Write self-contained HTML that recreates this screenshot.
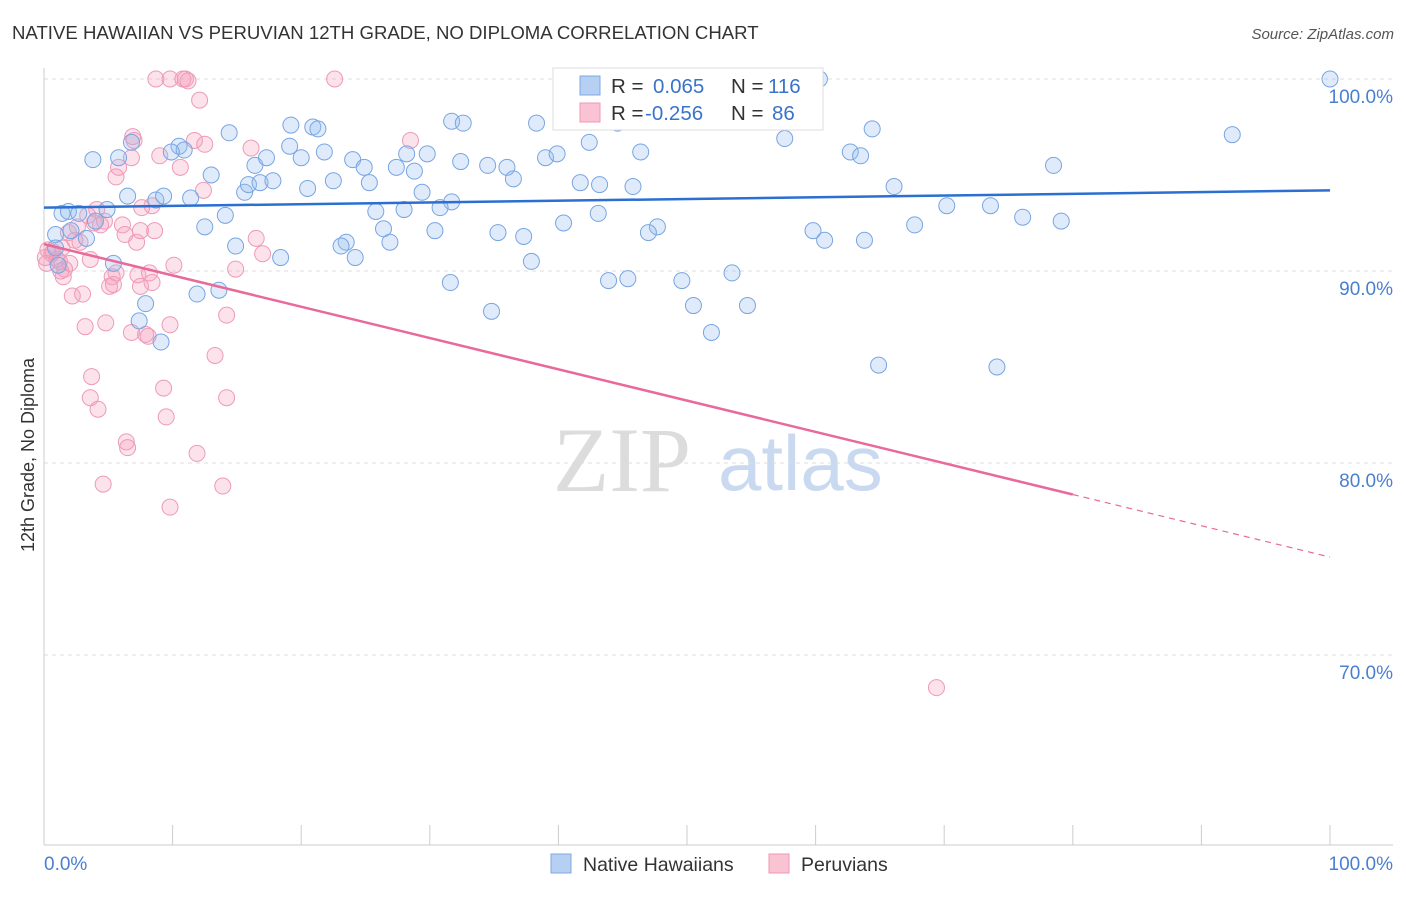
<!DOCTYPE html>
<html><head><meta charset="utf-8">
<style>
body{margin:0;background:#fff;font-family:"Liberation Sans",sans-serif;}
svg text{font-family:"Liberation Sans",sans-serif;}
</style></head>
<body>
<svg id="chart" width="1406" height="892" xmlns="http://www.w3.org/2000/svg">
<text x="12" y="39" font-size="18.6" fill="#333">NATIVE HAWAIIAN VS PERUVIAN 12TH GRADE, NO DIPLOMA CORRELATION CHART</text>
<text x="1394" y="39" font-size="15" fill="#555" text-anchor="end" font-style="italic">Source: ZipAtlas.com</text>
<text x="34" y="455" font-size="18" fill="#333" text-anchor="middle" transform="rotate(-90 34 455)">12th Grade, No Diploma</text>
<g>
<text x="553" y="491" font-size="92" fill="#dcdcdc" font-family="Liberation Serif" style="font-family:'Liberation Serif',serif">ZIP</text>
<text x="718" y="490" font-size="78" fill="#c9daf0">atlas</text>
</g>
<g id="grid"></g>
<g id="axes"></g>
<g id="pinkpts"></g>
<g id="bluepts"></g>
<g id="lines"></g>
<g>
<rect x="553" y="68" width="270" height="62" fill="#fff" stroke="#ddd"/>
<rect x="580" y="76" width="20" height="19" fill="#b5d0f3" stroke="#7fa9e3"/>
<rect x="580" y="103" width="20" height="19" fill="#f9c3d4" stroke="#ef97b5"/>
<text x="611" y="93" font-size="20.5" fill="#333">R =</text>
<text x="653" y="93" font-size="20.5" fill="#3a73c9">0.065</text>
<text x="731" y="93" font-size="20.5" fill="#333">N =</text>
<text x="768" y="93" font-size="20.5" fill="#3a73c9">116</text>
<text x="611" y="120" font-size="20.5" fill="#333">R =</text>
<text x="645" y="120" font-size="20.5" fill="#3a73c9">-0.256</text>
<text x="731" y="120" font-size="20.5" fill="#333">N =</text>
<text x="772" y="120" font-size="20.5" fill="#3a73c9">86</text>
</g>
<g>
<rect x="551" y="854" width="20" height="19" fill="#b5d0f3" stroke="#7fa9e3"/>
<text x="583" y="871" font-size="19.5" fill="#333">Native Hawaiians</text>
<rect x="769" y="854" width="20" height="19" fill="#f9c3d4" stroke="#ef97b5"/>
<text x="801" y="871" font-size="19.5" fill="#333">Peruvians</text>
</g>
</svg>
<script>
const blueX=[41.5,59.3,60.3,100,44.6,92.4,31.7,32.6,38.3,20.9,21.3,19.2,14.4,10.5,10.9,9.9,3.8,5.8,6.8,19.1,20.0,21.8,16.4,17.3,24.0,24.9,27.4,28.2,29.8,28.8,32.4,34.5,36.0,36.5,39.0,39.9,42.4,46.4,57.6,62.7,63.5,64.4,78.5,13.0,15.6,15.9,16.8,17.8,20.5,22.5,25.3,29.4,31.7,41.7,43.2,45.8,66.1,6.5,8.7,9.3,11.4,1.4,1.9,2.7,4.9,14.1,12.5,25.8,28.0,30.8,43.1,47.7,70.2,73.6,76.1,79.1,67.7,59.8,40.4,35.3,37.3,30.4,26.4,23.5,23.1,24.2,26.9,14.9,18.4,37.9,47.0,60.7,63.8,0.9,3.3,5.4,31.6,43.9,45.4,49.6,53.5,11.9,13.6,7.9,7.4,9.1,34.8,50.5,54.7,51.9,64.9,74.1,2.1,4.0,0.9,1.1];
const blueY=[100,100,100,100,97.7,97.1,97.8,97.7,97.7,97.5,97.4,97.6,97.2,96.5,96.3,96.2,95.8,95.9,96.7,96.5,95.9,96.2,95.5,95.9,95.8,95.4,95.4,96.1,96.1,95.2,95.7,95.5,95.4,94.8,95.9,96.1,96.7,96.2,96.9,96.2,96.0,97.4,95.5,95.0,94.1,94.5,94.6,94.7,94.3,94.7,94.6,94.1,93.6,94.6,94.5,94.4,94.4,93.9,93.7,93.9,93.8,93.0,93.1,93.0,93.2,92.9,92.3,93.1,93.2,93.3,93.0,92.3,93.4,93.4,92.8,92.6,92.4,92.1,92.5,92.0,91.8,92.1,92.2,91.5,91.3,90.7,91.5,91.3,90.7,90.5,92.0,91.6,91.6,91.9,91.7,90.4,89.4,89.5,89.6,89.5,89.9,88.8,89.0,88.3,87.4,86.3,87.9,88.2,88.2,86.8,85.1,85.0,92.1,92.6,91.2,90.3];
const pinkX=[8.7,9.8,10.8,11.0,11.2,22.6,12.1,6.9,7.0,9.0,6.8,11.7,12.5,16.1,10.6,5.8,5.6,28.5,12.4,8.4,7.6,4.1,3.4,6.1,4.7,6.3,8.6,4.4,2.6,1.9,7.2,7.5,16.5,2.8,1.4,0.3,0.6,1.0,2.0,0.2,1.6,3.6,10.1,14.9,17.0,5.6,5.3,7.3,8.2,1.5,1.3,8.4,7.5,5.1,2.2,3.0,14.2,3.2,4.8,9.8,6.8,7.9,8.1,13.3,3.7,9.3,3.6,14.2,4.2,9.5,6.4,6.5,11.9,4.6,13.9,9.8,69.4,0.7,1.2,2.4,0.1,3.9,5.4];
const pinkY=[100,100,100,100,99.9,100,98.9,97.0,96.8,96.0,95.9,96.8,96.6,96.4,95.4,95.4,94.9,96.8,94.2,93.4,93.3,93.2,92.9,92.4,92.6,91.9,92.1,92.4,92.3,92.0,91.5,92.1,91.7,91.5,91.2,91.1,90.9,90.6,90.4,90.4,90.1,90.6,90.3,90.1,90.9,89.9,89.7,89.8,89.9,89.7,90.0,89.4,89.2,89.2,88.7,88.8,87.7,87.1,87.3,87.2,86.8,86.7,86.6,85.6,84.5,83.9,83.4,83.4,82.8,82.4,81.1,80.8,80.5,78.9,78.8,77.7,68.3,91.0,90.5,91.6,90.7,92.5,89.3];
const yTicks=[100,90,80,70];
const yTickLabels=["100.0%","90.0%","80.0%","70.0%"];
const blueTrend=[93.3,94.2];
const pinkTrend=[91.4,75.1];
const pinkSolidEnd=80;

const NS="http://www.w3.org/2000/svg";
const X=v=>44+v*12.86;
const Y=v=>79+(100-v)*19.2;
function mk(tag,attrs,parent){const e=document.createElementNS(NS,tag);for(const k in attrs)e.setAttribute(k,attrs[k]);parent.appendChild(e);return e;}
const grid=document.getElementById('grid'),axes=document.getElementById('axes');
yTicks.forEach((t,i)=>{
 const l=mk('line',{x1:44,x2:1393,y1:Y(t),y2:Y(t),stroke:'#ddd','stroke-dasharray':'4,4'},grid);
 
 
 const tx=mk('text',{x:1393,y:Y(t)+24,'font-size':19,fill:'#4a7fd0','text-anchor':'end'},axes);
 tx.textContent=yTickLabels[i];
 
 
});
const ya=mk('line',{x1:44,x2:44,y1:68,y2:845,stroke:'#ccc'},axes);


const xa=mk('line',{x1:44,x2:1393,y1:845,y2:845,stroke:'#ccc'},axes);


for(let i=0;i<=10;i++){const t=mk('line',{x1:X(i*10),x2:X(i*10),y1:825,y2:845,stroke:'#ccc'},axes);
 
 }
const x0=mk('text',{x:44,y:870,'font-size':19,fill:'#4a7fd0'},axes);x0.textContent='0.0%';


const x1=mk('text',{x:1393,y:870,'font-size':19,fill:'#4a7fd0','text-anchor':'end'},axes);x1.textContent='100.0%';


const pg=document.getElementById('pinkpts');
pinkX.forEach((x,i)=>{const c=mk('circle',{cx:X(x),cy:Y(pinkY[i]),r:8,fill:'rgba(244,160,188,0.3)',stroke:'#ee9ab7','stroke-width':1},pg);
 
 });
const bg=document.getElementById('bluepts');
blueX.forEach((x,i)=>{const c=mk('circle',{cx:X(x),cy:Y(blueY[i]),r:8,fill:'rgba(150,188,238,0.3)',stroke:'#78a5e2','stroke-width':1},bg);
 
 });
const lg=document.getElementById('lines');
const bl=mk('line',{x1:X(0),y1:Y(blueTrend[0]),x2:X(100),y2:Y(blueTrend[1]),stroke:'#2a6fd1','stroke-width':2.5},lg);


const pv=x=>pinkTrend[0]+(pinkTrend[1]-pinkTrend[0])*x/100;
const pl=mk('line',{x1:X(0),y1:Y(pv(0)),x2:X(pinkSolidEnd),y2:Y(pv(pinkSolidEnd)),stroke:'#e8699a','stroke-width':2.5},lg);


const pd=mk('line',{x1:X(pinkSolidEnd),y1:Y(pv(pinkSolidEnd)),x2:X(100),y2:Y(pv(100)),stroke:'#e8699a','stroke-width':1.2,'stroke-dasharray':'6,5'},lg);


</script>
</body></html>
